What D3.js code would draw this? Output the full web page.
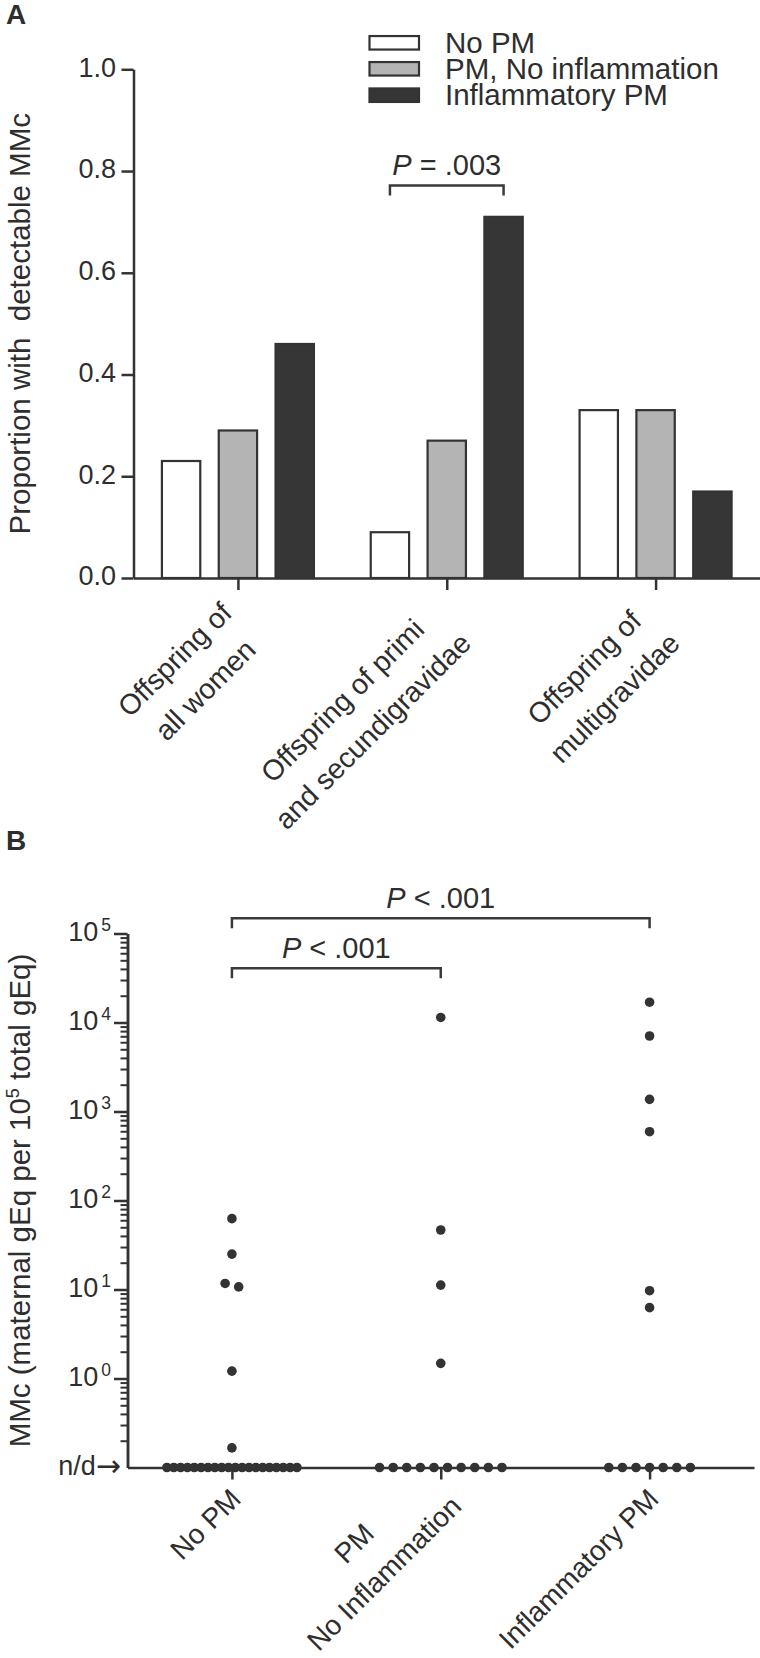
<!DOCTYPE html>
<html><head><meta charset="utf-8">
<script src="https://cdn.jsdelivr.net/npm/d3@7"></script>
<style>
html,body{margin:0;padding:0;background:#fff;}
svg{display:block;font-family:"Liberation Sans", Arial, Helvetica, sans-serif;}
text{fill:#2e2e2e;}
</style></head><body>
<svg id="chart" width="760" height="1658"></svg>
<script>
// ---------- Panel A data ----------
const categoriesA = ["Offspring of|all women", "Offspring of primi|and secundigravidae", "Offspring of|multigravidae"];
const seriesA = ["No PM", "PM, No inflammation", "Inflammatory PM"];
const valuesNoPM = [0.23, 0.09, 0.33];
const valuesPMNoInfl = [0.29, 0.27, 0.33];
const valuesInflPM = [0.46, 0.71, 0.17];
const yTicksA = [0, 0.2, 0.4, 0.6, 0.8, 1.0];
const seriesFills = ["#ffffff", "#b4b4b4", "#363636"];

// ---------- Panel B data ----------
const groupsB = ["No PM", "PM|No Inflammation", "Inflammatory PM"];
const detectedNoPM = [62.5, 25, 11.7, 10.7, 1.21, 0.166];
const detectedPMNoInfl = [11400, 46.6, 11.2, 1.48];
const detectedInflPM = [16900, 7050, 1370, 593, 9.7, 6.25];
const undetectedCounts = [20, 10, 7];
const ndValue = 0.1;
const yTicksB = [1, 10, 100, 1000, 10000, 100000];
const yTickExpB = ["0", "1", "2", "3", "4", "5"];

const svg = d3.select("#chart");
const ink = "#333333";
const FS_TICK = 27, FS_TITLE = 29.5, FS_P = 29;

// =============== PANEL A ===============
const gA = svg.append("g");
const xA = d3.scalePoint().domain(categoriesA).range([133.5, 760]).padding(0.5);
const xSub = d3.scaleBand().domain(seriesA).range([-76, 76]).paddingInner(0.325);
const yA = d3.scaleLinear().domain([0, 1]).range([578, 69.3]);
const seriesValues = [valuesNoPM, valuesPMNoInfl, valuesInflPM];

const barData = [];
categoriesA.forEach((c, ci) => seriesA.forEach((s, si) => barData.push({c, s, si, v: seriesValues[si][ci]})));
gA.selectAll("rect.bar").data(barData).join("rect")
  .attr("class", "bar")
  .attr("x", d => xA(d.c) + xSub(d.s))
  .attr("width", xSub.bandwidth())
  .attr("y", d => yA(d.v))
  .attr("height", d => yA(0) - yA(d.v))
  .attr("fill", d => seriesFills[d.si])
  .attr("stroke", ink).attr("stroke-width", 2.2);

function styleAxis(ax, fs) {
  ax.select(".domain").attr("stroke", ink).attr("stroke-width", 2.5);
  ax.selectAll(".tick line").attr("stroke", ink).attr("stroke-width", 2.5);
  ax.selectAll(".tick text").attr("font-size", fs).attr("fill", "#2e2e2e")
    .attr("font-family", "Liberation Sans, Arial, sans-serif");
}

// y axis A
const axA = gA.append("g").attr("transform", "translate(133.5,0)")
  .call(d3.axisLeft(yA).tickValues(yTicksA).tickFormat(d3.format(".1f")).tickSize(12).tickSizeOuter(0).tickPadding(5.5));
styleAxis(axA, FS_TICK);
axA.selectAll(".tick text").attr("dy", null).attr("y", 6.9);
// x axis A
const axAx = gA.append("g").attr("transform", "translate(0,578)")
  .call(d3.axisBottom(xA).tickSize(12).tickSizeOuter(0).tickFormat(""));
styleAxis(axAx, FS_TICK);

// rotated multi-line labels (u along text, v perpendicular)
function rotatedLabels(g, scale, keys, axisY, uEndFn, vcFn, fs, lh) {
  keys.forEach(k => {
    const lines = k.split("|");
    const n = lines.length;
    const vc = vcFn(n), uEnd = uEndFn(n);
    const lg = g.append("g").attr("transform", `translate(${scale(k)},${axisY}) rotate(-45)`);
    const ts = lines.map((ln, i) => lg.append("text")
      .attr("text-anchor", "middle").attr("font-size", fs)
      .attr("y", vc + (i - (n - 1) / 2) * lh + 0.36 * fs)
      .text(ln));
    const maxW = d3.max(ts, t => t.node().getComputedTextLength());
    ts.forEach(t => t.attr("x", uEnd - maxW / 2));
  });
}
rotatedLabels(gA, xA, categoriesA, 578, n => -29, n => 34, 28.5, 43);

// y title A
gA.append("text")
  .attr("transform", "translate(30,323.7) rotate(-90)")
  .attr("text-anchor", "middle").attr("font-size", FS_TITLE)
  .text("Proportion with\u00a0 detectable MMc");

// legend
const legY = [42.8, 68.8, 95.2];
const leg = gA.append("g");
seriesA.forEach((s, i) => {
  leg.append("rect").attr("x", 369.5).attr("y", legY[i] - 6.75).attr("width", 49.5).attr("height", 13.5)
    .attr("fill", seriesFills[i]).attr("stroke", ink).attr("stroke-width", 2.2);
  leg.append("text").attr("x", 445).attr("y", legY[i] + 10).attr("font-size", 29.5).text(s);
});

// significance brackets
function bracket(g, x1, x2, y, drop, label, ty, op) {
  g.append("path").attr("d", `M${x1},${y + drop}V${y}H${x2}V${y + drop}`)
    .attr("fill", "none").attr("stroke", "#3a3a3a").attr("stroke-width", 2.5);
  const t = g.append("text").attr("x", (x1 + x2) / 2).attr("y", ty).attr("text-anchor", "middle").attr("font-size", FS_P);
  t.append("tspan").attr("font-style", "italic").text("P");
  t.append("tspan").text(" " + op + " " + label);
}
const c2 = categoriesA[1];
bracket(gA, xA(c2) + xSub(seriesA[0]) + xSub.bandwidth() / 2, xA(c2) + xSub(seriesA[2]) + xSub.bandwidth() / 2, 185.4, 10, ".003", 175.4, "=");

// panel letter
svg.append("text").attr("x", 6).attr("y", 24).attr("font-size", 28).attr("font-weight", "bold").text("A");

// =============== PANEL B ===============
const gB = svg.append("g");
const xB = d3.scalePoint().domain(groupsB).range([127.5, 754]).padding(0.5);
const yB = d3.scaleLog().domain([ndValue, 100000]).range([1467.5, 933.5]);

// minor ticks
const minorB = [];
for (let m = 2; m <= 9; m++) minorB.push(m / 10);
for (let e = 0; e < 5; e++) for (let m = 2; m <= 9; m++) minorB.push(m * Math.pow(10, e));

const axBminor = gB.append("g").attr("transform", "translate(127.5,0)")
  .call(d3.axisLeft(yB).tickValues(minorB).tickSize(7).tickSizeOuter(0).tickFormat(""));
const axB = gB.append("g").attr("transform", "translate(127.5,0)")
  .call(d3.axisLeft(yB).tickValues(yTicksB).tickSize(13.5).tickSizeOuter(0).tickFormat(""));
styleAxis(axBminor, FS_TICK);
styleAxis(axB, FS_TICK);
axBminor.selectAll(".tick line").attr("stroke-width", 2);

// major labels 10^n
yTicksB.forEach((v, i) => {
  const t = gB.append("text").attr("x", 111).attr("y", yB(v) + 7.6)
    .attr("text-anchor", "end").attr("font-size", FS_TICK);
  t.append("tspan").text("10");
  t.append("tspan").attr("font-size", 17.5).attr("dy", -10).attr("dx", 3).text(yTickExpB[i]);
});
// n/d label
const nd = gB.append("text").attr("x", 121).attr("y", yB(ndValue) + 7.5).attr("text-anchor", "end")
  .attr("font-size", FS_TICK);
nd.append("tspan").text("n/d");
nd.append("tspan").attr("font-family", "DejaVu Sans").attr("font-size", 30).attr("dy", 0.5).text("\u2192");

// x axis B
const axBx = gB.append("g").attr("transform", `translate(0,${yB(ndValue)})`)
  .call(d3.axisBottom(xB).tickSize(12).tickSizeOuter(0).tickFormat(""));
styleAxis(axBx, FS_TICK);

rotatedLabels(gB, xB, groupsB, yB(ndValue), n => (n > 1 ? -13 : -16), n => (n > 1 ? 13 : 21), 28, 42.5);

// y title B
const tB = gB.append("text")
  .attr("transform", "translate(30,1200.5) rotate(-90)")
  .attr("text-anchor", "middle").attr("font-size", FS_TITLE);
tB.append("tspan").text("MMc (maternal gEq per 10");
tB.append("tspan").attr("font-size", 18).attr("dy", -11).text("5");
tB.append("tspan").attr("dy", 11).text(" total gEq)");

// dots
const detectedSets = [detectedNoPM, detectedPMNoInfl, detectedInflPM];
const R = 4.8;
const dots = [];
groupsB.forEach((gname, gi) => {
  const cx = xB(gname);
  const pts = detectedSets[gi].map(v => ({v, y: yB(v)}));
  pts.sort((a, b) => a.y - b.y);
  let i = 0;
  while (i < pts.length) {
    let j = i + 1;
    while (j < pts.length && pts[j].y - pts[j - 1].y < 2 * R) j++;
    const k = j - i;
    for (let q = i; q < j; q++) dots.push({x: cx + (q - i - (k - 1) / 2) * 13.6, y: pts[q].y});
    i = j;
  }
  const n = undetectedCounts[gi];
  const sp = Math.min(13.6, 130 / (n - 1));
  for (let q = 0; q < n; q++) dots.push({x: cx + (q - (n - 1) / 2) * sp, y: yB(ndValue)});
});
gB.selectAll("circle.dot").data(dots).join("circle")
  .attr("class", "dot").attr("cx", d => d.x).attr("cy", d => d.y).attr("r", R).attr("fill", ink);

// brackets B
bracket(gB, xB(groupsB[0]), xB(groupsB[2]), 918.3, 10, ".001", 908, "<");
bracket(gB, xB(groupsB[0]), xB(groupsB[1]), 968.3, 10, ".001", 958.3, "<");

svg.append("text").attr("x", 6).attr("y", 850).attr("font-size", 28).attr("font-weight", "bold").text("B");
</script>
</body></html>
